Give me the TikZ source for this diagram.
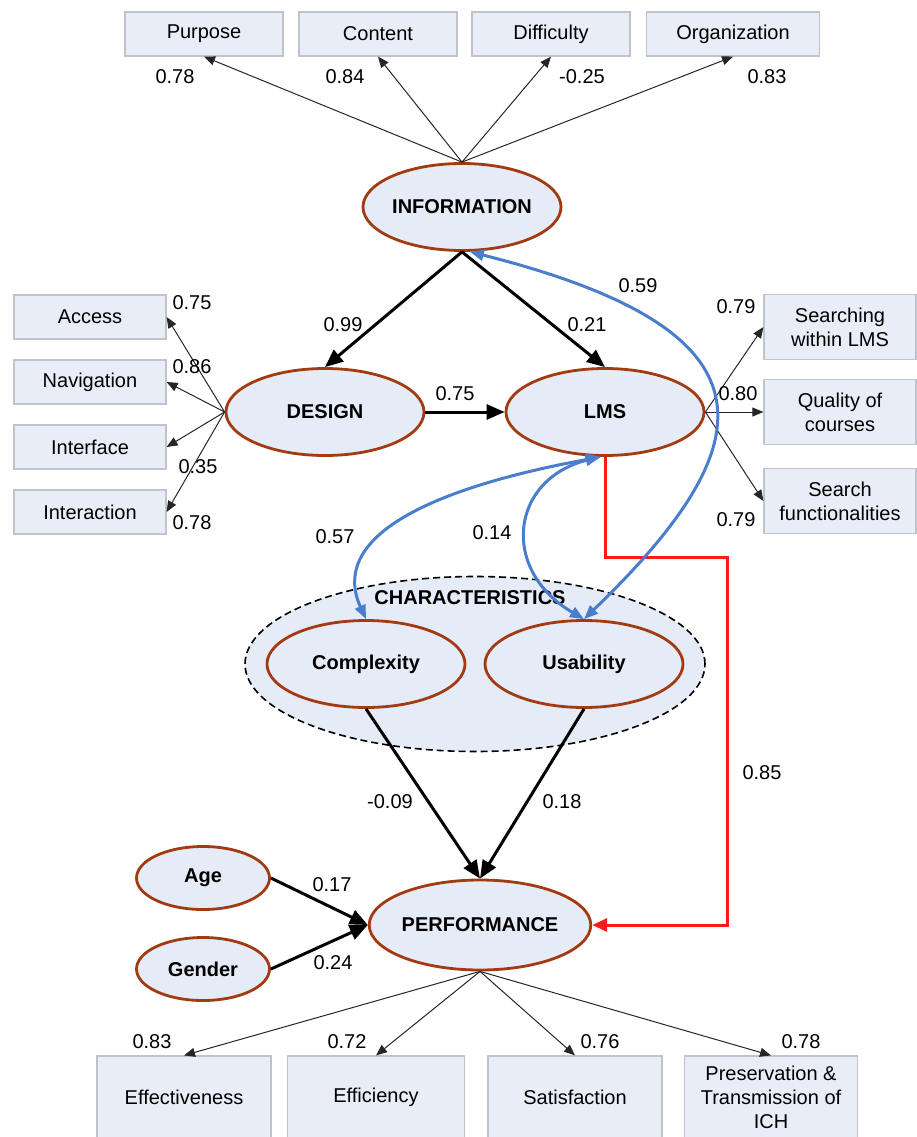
\documentclass[tikz,border=0pt]{standalone}
\usepackage{fontspec}
\setmainfont{Liberation Sans}
\usetikzlibrary{shapes.geometric,arrows.meta,calc}
\definecolor{boxfill}{HTML}{E8EDF7}
\definecolor{boxline}{HTML}{BFC4CC}
\definecolor{ovalfill}{HTML}{E6ECF7}
\definecolor{ovalline}{HTML}{A23A12}
\definecolor{corrblue}{HTML}{4A7DCB}
\definecolor{pathred}{HTML}{FF1A1A}

\begin{document}
\begin{tikzpicture}[x=1pt,y=-1pt,
  every node/.style={font=\fontsize{20}{24}\selectfont},
  indicator/.style={draw=boxline, fill=boxfill, line width=1.2pt, rectangle, inner sep=0pt, align=center},
  latent/.style={draw=ovalline, fill=ovalfill, ellipse, line width=2.8pt, inner sep=0pt,
    minimum width=198pt, minimum height=87pt, font=\fontsize{20}{24}\selectfont\bfseries},
  coef/.style={inner sep=1pt},
  loading/.style={draw=black!85, line width=1pt, -{Triangle[length=11pt,width=9pt]}},
  effect/.style={draw=black, line width=3pt, -{Triangle[length=18pt,width=15pt]}},
  corr/.style={draw=corrblue, line width=3pt,
    {Triangle[length=14pt,width=11pt]}-{Triangle[length=14pt,width=11pt]}},
  redpath/.style={draw=pathred, line width=3pt, -{Triangle[length=15pt,width=13pt]}},
]
\useasboundingbox (0,0) rectangle (917,1137);

% observed indicators of INFORMATION
\node[indicator, minimum width=158pt, minimum height=44pt] (purpose) at (204,34) {Purpose};
\node[indicator, minimum width=158pt, minimum height=44pt] (content) at (378,34) {Content};
\node[indicator, minimum width=158pt, minimum height=44pt] (difficulty) at (551,34) {Difficulty};
\node[indicator, minimum width=173pt, minimum height=44pt] (organization) at (733,34) {Organization};

% observed indicators of DESIGN
\node[indicator, minimum width=152pt, minimum height=44pt] (access) at (90,317) {Access};
\node[indicator, minimum width=152pt, minimum height=44pt] (navigation) at (90,382) {Navigation};
\node[indicator, minimum width=152pt, minimum height=44pt] (interface) at (90,447) {Interface};
\node[indicator, minimum width=152pt, minimum height=44pt] (interaction) at (90,512) {Interaction};

% observed indicators of LMS
\node[indicator, minimum width=152pt, minimum height=65pt] (searching) at (840,327) {Searching\\within LMS};
\node[indicator, minimum width=152pt, minimum height=65pt] (quality) at (840,412) {Quality of\\courses};
\node[indicator, minimum width=152pt, minimum height=65pt] (searchfn) at (840,501) {Search\\functionalities};

% observed indicators of PERFORMANCE
\node[indicator, minimum width=174pt, minimum height=82pt] (effectiveness) at (184,1097) {Effectiveness};
\node[indicator, minimum width=177pt, minimum height=82pt] (efficiency) at (376,1097) {Efficiency};
\node[indicator, minimum width=174pt, minimum height=82pt] (satisfaction) at (575,1097) {Satisfaction};
\node[indicator, minimum width=173pt, minimum height=82pt] (preservation) at (771,1097) {Preservation \&\\Transmission of\\ICH};

% CHARACTERISTICS group
\node[draw=black, fill=ovalfill, ellipse, line width=1.6pt, dash pattern=on 7pt off 4pt,
  minimum width=460pt, minimum height=175pt, inner sep=0pt] (chars) at (475,664) {};
\node[font=\fontsize{20}{24}\selectfont\bfseries] (charlabel) at (470,598) {CHARACTERISTICS};

% latent constructs
\node[latent] (info) at (462,207) {INFORMATION};
\node[latent] (design) at (325,412) {DESIGN};
\node[latent] (lms) at (605,412) {LMS};
\node[latent] (comp) at (366,664) {Complexity};
\node[latent] (usab) at (584,664) {Usability};
\node[latent, minimum width=220pt, minimum height=90pt] (perf) at (480,925) {PERFORMANCE};
\node[latent, minimum width=133pt, minimum height=63pt] (age) at (203,878) {Age};
\node[latent, minimum width=133pt, minimum height=63pt] (gender) at (203,969) {Gender};

% measurement loadings
\draw[loading] (info.north) -- (purpose.south);
\draw[loading] (info.north) -- (content.south);
\draw[loading] (info.north) -- (difficulty.south);
\draw[loading] (info.north) -- (organization.south);
\draw[loading] (design.west) -- (access.east);
\draw[loading] (design.west) -- (navigation.east);
\draw[loading] (design.west) -- (interface.east);
\draw[loading] (design.west) -- (interaction.east);
\draw[loading] (lms.east) -- (searching.west);
\draw[loading] (lms.east) -- (quality.west);
\draw[loading] (lms.east) -- (searchfn.west);
\draw[loading] (perf.south) -- (effectiveness.north);
\draw[loading] (perf.south) -- (efficiency.north);
\draw[loading] (perf.south) -- (satisfaction.north);
\draw[loading] (perf.south) -- (preservation.north);

% structural paths
\draw[effect] (info.south) -- (design.north);
\draw[effect] (info.south) -- (lms.north);
\draw[effect] (design.east) -- (lms.west);
\draw[effect] (comp.south) -- (perf.north);
\draw[effect] (usab.south) -- (perf.north);
\draw[effect] (age.east) -- (perf.west);
\draw[effect] (gender.east) -- (perf.west);

% direct LMS effect on PERFORMANCE
\coordinate (redturn) at (727,557);
\draw[redpath] (lms.south) -- (lms.south |- redturn) -- (redturn) -- (redturn |- perf.east) -- (perf.east);

% correlations
\draw[corr] (info.-80) .. controls (780,330) and (770,440) .. (usab.north);
\draw[corr] (lms.-95) .. controls (420,490) and (330,540) .. (comp.north);
\draw[corr] (lms.-97) .. controls (510,480) and (500,570) .. (usab.north);

% coefficients
\node[coef] (c1) at (175,77) {0.78};
\node[coef] (c2) at (345,77) {0.84};
\node[coef] (c3) at (582,77) {-0.25};
\node[coef] (c4) at (767,77) {0.83};
\node[coef] (c5) at (192,303) {0.75};
\node[coef] (c6) at (192,367) {0.86};
\node[coef] (c7) at (198,467) {0.35};
\node[coef] (c8) at (192,523) {0.78};
\node[coef] (c9) at (343,325) {0.99};
\node[coef] (c10) at (587,325) {0.21};
\node[coef] (c11) at (638,286) {0.59};
\node[coef] (c12) at (455,394) {0.75};
\node[coef] (c13) at (736,307) {0.79};
\node[coef] (c14) at (738,394) {0.80};
\node[coef] (c15) at (736,520) {0.79};
\node[coef] (c16) at (335,537) {0.57};
\node[coef] (c17) at (492,533) {0.14};
\node[coef] (c18) at (390,802) {-0.09};
\node[coef] (c19) at (562,802) {0.18};
\node[coef] (c20) at (762,773) {0.85};
\node[coef] (c21) at (332,885) {0.17};
\node[coef] (c22) at (333,963) {0.24};
\node[coef] (c23) at (152,1042) {0.83};
\node[coef] (c24) at (347,1042) {0.72};
\node[coef] (c25) at (600,1042) {0.76};
\node[coef] (c26) at (801,1042) {0.78};
\end{tikzpicture}
\end{document}
